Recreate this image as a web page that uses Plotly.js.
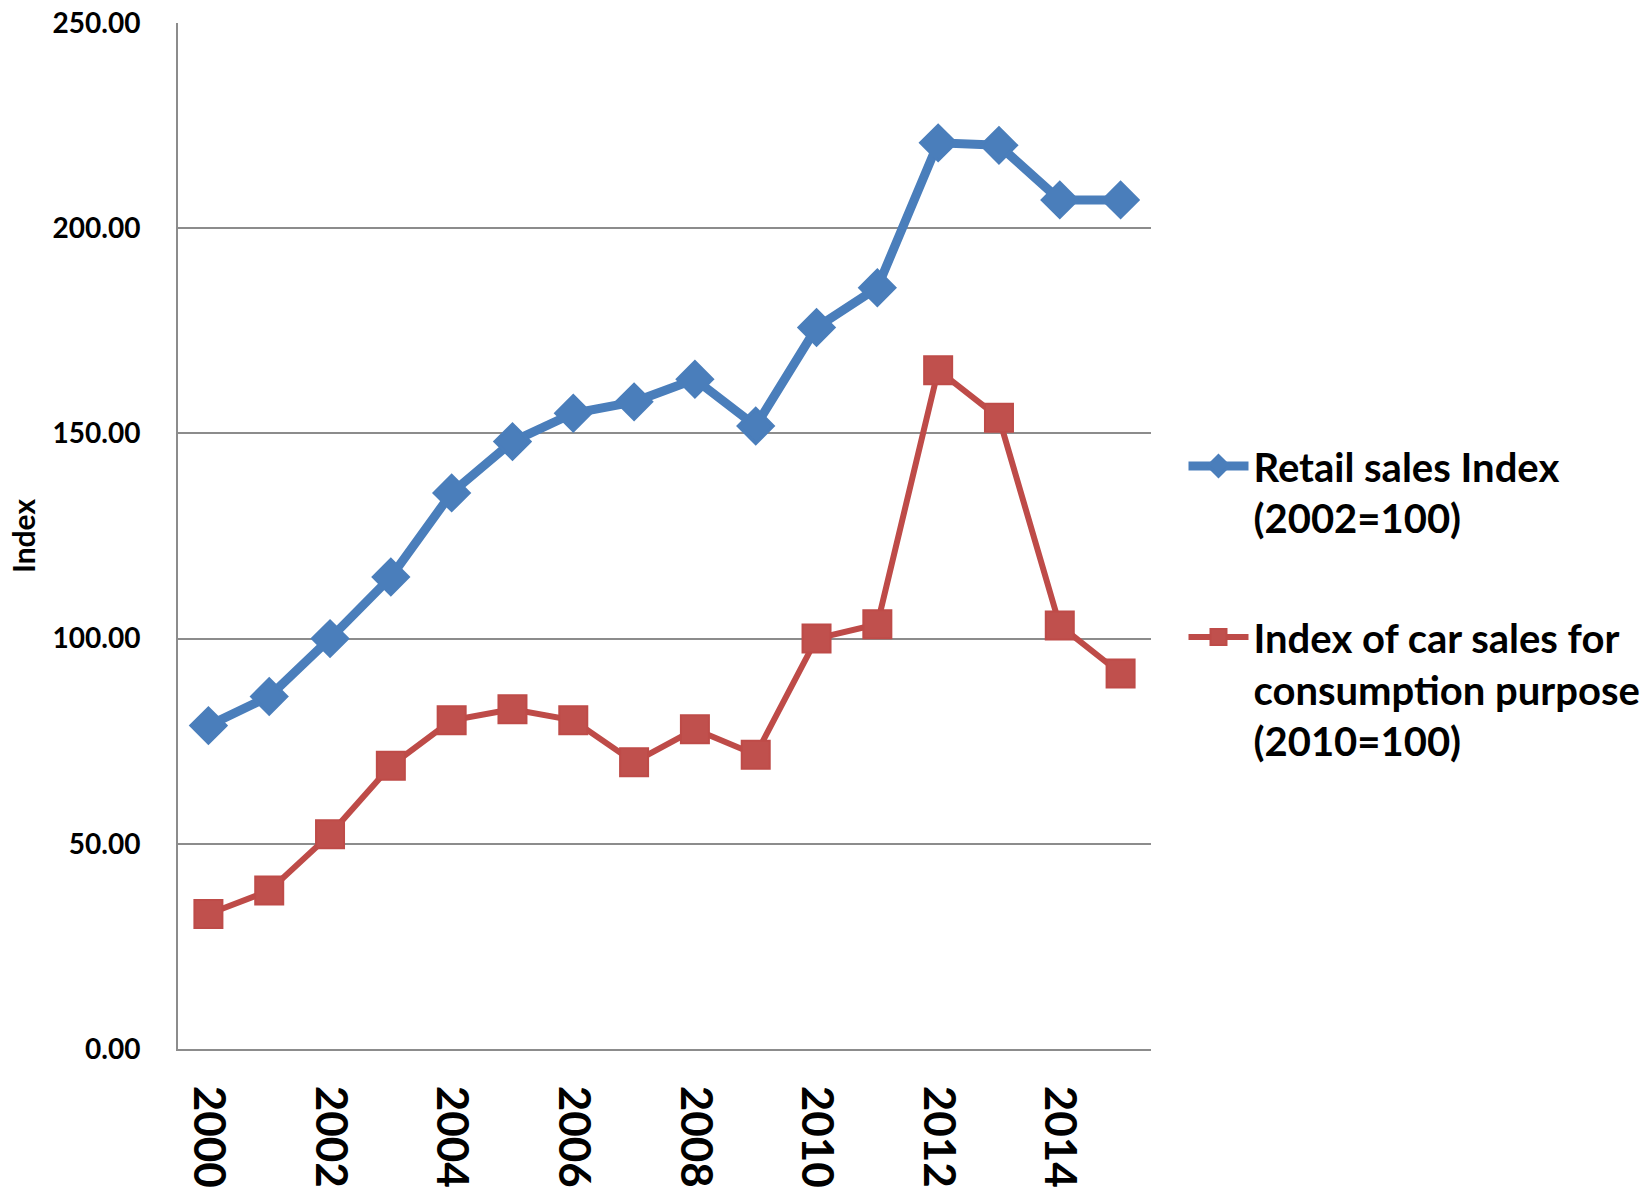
<!DOCTYPE html>
<html>
<head>
<meta charset="utf-8">
<script src="https://cdn.plot.ly/plotly-3.0.1.min.js"></script>
<style>html,body{margin:0;padding:0;background:#fff;}</style>
</head>
<body>
<div id="chart" style="width:1643px;height:1193px;"></div>
<script>
const years = [2000,2001,2002,2003,2004,2005,2006,2007,2008,2009,2010,2011,2012,2013,2014,2015];
const retailIndex = [78.8,85.9,100.0,115.0,135.5,148.0,154.9,157.7,163.2,151.8,175.8,185.5,220.8,220.2,206.9,206.9];
const carIndex = [32.9,38.6,52.3,69.0,80.1,82.8,80.1,69.9,77.9,71.7,100.0,103.5,165.4,153.8,103.2,91.5];
const labelYears = [2000,2002,2004,2006,2008,2010,2012,2014];
const seriesNames = ['Retail sales Index<br>(2002=100)', 'Index of car sales for<br>consumption purpose<br>(2010=100)'];

const traces = [
  {
    x: years, y: retailIndex, name: seriesNames[0], type: 'scatter', mode: 'lines+markers',
    legendgroup: 'a',
    line: {color: '#4A7EBB', width: 9},
    marker: {symbol: 'diamond', size: 27, color: '#4A7EBB', line: {color: '#4A7EBB', width: 3}}
  },
  {
    x: years, y: carIndex, name: seriesNames[1], type: 'scatter', mode: 'lines+markers',
    legendgroup: 'b',
    line: {color: '#BE4B48', width: 6},
    marker: {symbol: 'square', size: 28, color: '#C0504D', line: {color: '#BE4B48', width: 2}}
  }
];

const layout = {
  width: 1643, height: 1193,
  margin: {l: 178, r: 491.5, t: 23, b: 144, autoexpand: false},
  paper_bgcolor: '#fff', plot_bgcolor: '#fff',
  showlegend: true,
  legend: {
    x: 1.0334, xanchor: 'left', y: 0.60, yanchor: 'top',
    font: {family: 'Lato', size: 40, color: '#000', weight: 'bold'},
    valign: 'top', tracegroupgap: 64, bgcolor: 'rgba(0,0,0,0)',
    itemwidth: 60
  },
  xaxis: {
    type: 'linear', range: [1999.5, 2015.5],
    tickvals: labelYears, ticktext: labelYears.map(String),
    tickangle: 90,
    tickfont: {family: 'Lato', size: 44, color: '#000', weight: 'bold'},
    ticks: '', ticklabelstandoff: 26,
    showgrid: false, zeroline: false,
    showline: true, linecolor: '#8C8C8C', linewidth: 2,
    automargin: false
  },
  yaxis: {
    range: [0, 250], dtick: 50, tick0: 0, tickformat: '.2f',
    tickfont: {family: 'Lato', size: 28, color: '#000', weight: 'bold'},
    ticks: '', ticklabelstandoff: 30,
    showgrid: true, gridcolor: '#8C8C8C', gridwidth: 2,
    zeroline: false,
    showline: true, linecolor: '#8C8C8C', linewidth: 2,
    automargin: false,
    title: {text: 'Index', font: {family: 'Lato', size: 30, color: '#000', weight: 'bold'}, standoff: 8}
  }
};

Plotly.newPlot('chart', traces, layout, {displayModeBar: false, staticPlot: true});
</script>
</body>
</html>
